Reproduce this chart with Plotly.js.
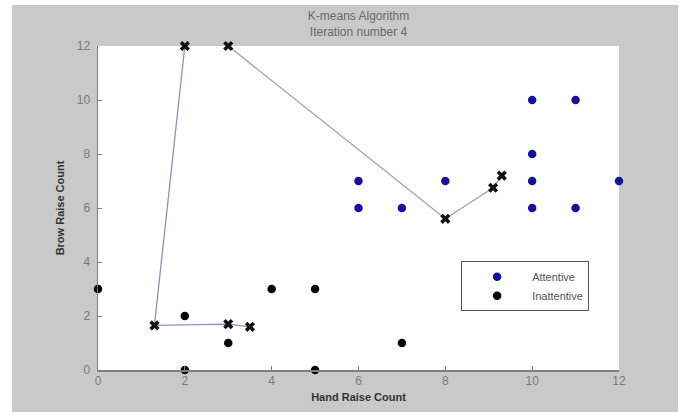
<!DOCTYPE html>
<html>
<head>
<meta charset="utf-8">
<script src="https://cdn.plot.ly/plotly-3.0.1.min.js"></script>
<style>
  html, body { margin: 0; padding: 0; background: #ffffff; width: 686px; height: 412px; overflow: hidden; }
  #chart { position: absolute; left: 12px; top: 5px; width: 666px; height: 407px; }
</style>
</head>
<body>
<div id="chart"></div>
<script>
// Attentive students
const attentiveX = [6, 6, 7, 8, 10, 11, 10, 10, 10, 11, 12];
const attentiveY = [7, 6, 6, 7, 10, 10, 8, 7, 6, 6, 7];
// Inattentive students
const inattentiveX = [0, 2, 2, 3, 4, 5, 5, 7];
const inattentiveY = [3, 2, 0, 1, 3, 3, 0, 1];
// Centroid trajectories across iterations
const centroid1X = [2, 1.3, 3, 3.5];
const centroid1Y = [12, 1.65, 1.7, 1.6];
const centroid2X = [3, 8, 9.1, 9.3];
const centroid2Y = [12, 5.6, 6.75, 7.2];
// Axis ticks
const tickVals = [0, 2, 4, 6, 8, 10, 12];

const data = [
  {
    x: centroid1X, y: centroid1Y, type: 'scatter', mode: 'lines+markers',
    line: {color: '#8e8ec8', width: 1.3},
    marker: {symbol: 'x', size: 9, color: '#111111'},
    showlegend: false, cliponaxis: false, hoverinfo: 'skip'
  },
  {
    x: centroid2X, y: centroid2Y, type: 'scatter', mode: 'lines+markers',
    line: {color: '#a0a0a8', width: 1.3},
    marker: {symbol: 'x', size: 9, color: '#111111'},
    showlegend: false, cliponaxis: false, hoverinfo: 'skip'
  },
  {
    x: attentiveX, y: attentiveY, type: 'scatter', mode: 'markers', name: 'Attentive',
    marker: {symbol: 'circle', size: 8.5, color: '#12129c'},
    cliponaxis: false
  },
  {
    x: inattentiveX, y: inattentiveY, type: 'scatter', mode: 'markers', name: 'Inattentive',
    marker: {symbol: 'circle', size: 8.5, color: '#000000'},
    cliponaxis: false
  }
];

const axisCommon = {
  range: [0, 12],
  tickvals: tickVals,
  ticktext: tickVals.map(String),
  showgrid: false,
  zeroline: false,
  showline: true,
  linecolor: '#808080',
  linewidth: 1.5,
  ticks: 'inside',
  ticklen: 4,
  tickcolor: '#808080',
  tickfont: {family: 'Liberation Sans, Arial, sans-serif', size: 12, color: '#7a7a7a'},
  fixedrange: true
};

const layout = {
  width: 666,
  height: 407,
  paper_bgcolor: '#c9c9c9',
  plot_bgcolor: '#ffffff',
  margin: {l: 86, r: 59, t: 41, b: 42},
  title: {
    text: 'K-means Algorithm<br>Iteration number 4',
    font: {family: 'Liberation Sans, Arial, sans-serif', size: 12, color: '#6a6a6a'},
    x: 0.5, xref: 'paper', xanchor: 'center',
    y: 0.962, yref: 'container', yanchor: 'middle'
  },
  xaxis: Object.assign({}, axisCommon, {
    ticklabelstandoff: -1,
    title: {text: 'Hand Raise Count', standoff: 6,
      font: {family: 'Liberation Sans, Arial, sans-serif', size: 11, color: '#333333', weight: 'bold'}}
  }),
  yaxis: Object.assign({}, axisCommon, {
    ticklabelstandoff: 4,
    title: {text: 'Brow Raise Count', standoff: 10,
      font: {family: 'Liberation Sans, Arial, sans-serif', size: 11, color: '#333333', weight: 'bold'}}
  }),
  legend: {
    x: 0.697, xanchor: 'left', y: 0.336, yanchor: 'top',
    bgcolor: '#ffffff', bordercolor: '#555555', borderwidth: 1,
    font: {family: 'Liberation Sans, Arial, sans-serif', size: 11, color: '#555555'},
    itemwidth: 60,
    entrywidth: 112,
    tracegroupgap: 0
  },
  showlegend: true
};

Plotly.newPlot('chart', data, layout, {displayModeBar: false, staticPlot: true});
</script>
</body>
</html>
